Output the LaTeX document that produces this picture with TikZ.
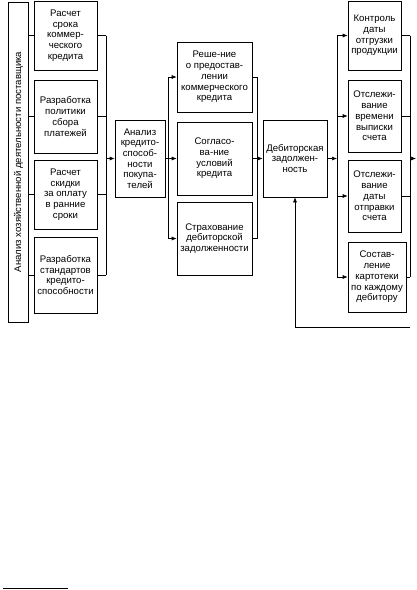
\documentclass[tikz,border=0pt]{standalone}
\usepackage{fontspec}
\setmainfont{Liberation Sans}
\usetikzlibrary{arrows.meta}

\begin{document}
\begin{tikzpicture}[x=1pt, y=-1pt,
      blk/.style={draw, line width=0.6pt, align=center, inner sep=1pt,
                  font=\fontsize{9.6}{10.7}\selectfont},
      lin/.style={line width=0.6pt},
      arr/.style={line width=0.6pt, -{Latex[length=5pt,width=4pt]}}
    ]
      \useasboundingbox (0,0) rectangle (416,590);

      % supplier analysis
      \node[blk, rotate=90, minimum width=320, minimum height=20] (src) at (18.5,162)
        {Анализ хозяйственной деятельности поставщика};

      % first column
      \node[blk, minimum width=63, minimum height=69] (rs) at (65.5,35.5)
        {Расчет\\срока\\коммер-\\ческого\\кредита};
      \node[blk, minimum width=63, minimum height=73] (pp) at (65.5,116.5)
        {Разработка\\политики\\сбора\\платежей};
      \node[blk, minimum width=63, minimum height=69] (sk) at (65.5,194.5)
        {Расчет\\скидки\\за оплату\\в ранние\\сроки};
      \node[blk, minimum width=63, minimum height=76] (st) at (65.5,275)
        {Разработка\\стандартов\\кредито-\\способности};

      \node[blk, minimum width=50, minimum height=77] (an) at (140,158.5)
        {Анализ\\кредито-\\способ-\\ности\\покупа-\\телей};

      % second column
      \node[blk, minimum width=75, minimum height=70] (rk) at (214.5,77)
        {Реше-ние\\о предостав-\\лении\\коммерческого\\кредита};
      \node[blk, minimum width=75, minimum height=73] (sg) at (214.5,158.5)
        {Согласо-\\ва-ние\\условий\\кредита};
      \node[blk, minimum width=75, minimum height=73] (sd) at (214.5,238.5)
        {Страхование\\дебиторской\\задолженности};

      \node[blk, minimum width=64, minimum height=77] (dz) at (295,158.5)
        {Дебиторская\\задолжен-\\ность};

      % third column
      \node[blk, minimum width=53, minimum height=69] (kd) at (374.5,35.5)
        {Контроль\\даты\\отгрузки\\продукции};
      \node[blk, minimum width=53, minimum height=72] (ov) at (374.5,116)
        {Отслежи-\\вание\\времени\\выписки\\счета};
      \node[blk, minimum width=53, minimum height=72] (oo) at (374.5,196)
        {Отслежи-\\вание\\даты\\отправки\\счета};
      \node[blk, minimum width=58, minimum height=70] (sc) at (377,277)
        {Состав-\\ление\\картотеки\\по каждому\\дебитору};

      % buses
      \coordinate (b1) at (106,0);
      \coordinate (b2) at (168,0);
      \coordinate (b3) at (257,0);
      \coordinate (b4) at (337,0);
      \coordinate (b5) at (410,0);
      \coordinate (out) at (416,158.5);
      \coordinate (fb) at (410,327);

      \foreach \n in {rs,pp,sk,st} {
        \draw[lin] (src.south |- \n.west) -- (\n.west);
        \draw[lin] (\n.east) -- (b1 |- \n.east);
      }
      \draw[lin] (b1 |- rs.east) -- (b1 |- st.east);
      \draw[arr] (b1 |- an.west) -- (an.west);

      \draw[arr] (an.east) -- (sg.west);
      \draw[lin] (b2 |- rk.west) -- (b2 |- sd.west);
      \foreach \n in {rk,sd} {
        \draw[arr] (b2 |- \n.west) -- (\n.west);
        \draw[lin] (\n.east) -- (b3 |- \n.east);
      }
      \draw[lin] (b3 |- rk.east) -- (b3 |- sd.east);
      \draw[arr] (sg.east) -- (dz.west);

      \draw[arr] (dz.east) -- (b4 |- dz.east);
      \draw[lin] (b4 |- kd.west) -- (b4 |- sc.west);
      \foreach \n in {kd,ov,oo,sc} {
        \draw[arr] (b4 |- \n.west) -- (\n.west);
        \draw[lin] (\n.east) -- (b5 |- \n.east);
      }
      \draw[lin] (b5 |- kd.east) -- (b5 |- sc.east);
      \draw[arr] (b5 |- out) -- (out);

      % feedback
      \draw[arr] (fb) -- (fb -| dz.south) -- (dz.south);

      % footnote rule
      \coordinate (fn1) at (3,588);
      \coordinate (fn2) at (68,588);
      \draw[line width=0.8pt] (fn1) -- (fn2);
    \end{tikzpicture}
\end{document}
